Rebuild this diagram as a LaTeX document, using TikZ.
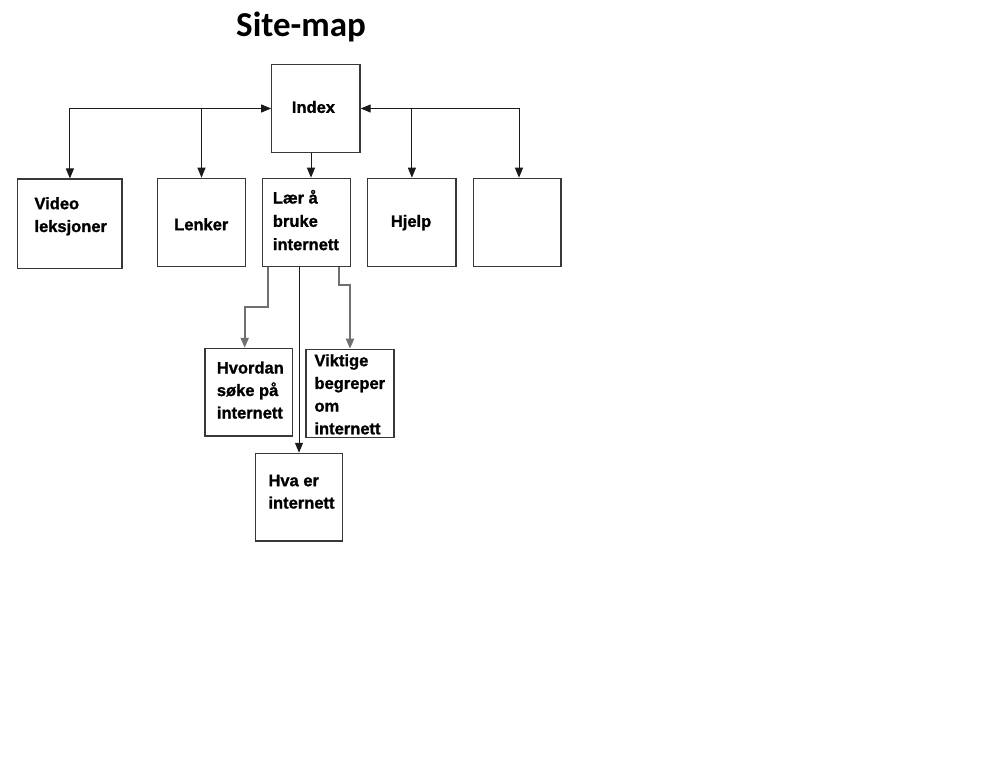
\documentclass[tikz,border=0pt]{standalone}
\usepackage{fontspec}
\setmainfont{Liberation Sans}[BoldFeatures={FakeBold=1.2}]
\newfontfamily\titlefont{Carlito}
\usetikzlibrary{arrows.meta}
\begin{document}
\begin{tikzpicture}[x=1pt,y=-1pt,
  box/.style={draw=boxcol,line width=1.2pt,inner sep=0pt},
  lbl/.style={anchor=north west,inner sep=0pt,align=left,
    font=\fontsize{16.5pt}{22.8pt}\selectfont\bfseries},
  conn/.style={draw=linecol,line width=1pt},
  subconn/.style={draw=subcol,line width=2pt},
  tip/.style={-{Triangle[length=10pt,width=8pt]}},
  tips/.style={{Triangle[length=10pt,width=8pt]}-{Triangle[length=10pt,width=8pt]}}
]
\definecolor{boxcol}{HTML}{383838}
\definecolor{linecol}{HTML}{1A1A1A}
\definecolor{subcol}{HTML}{707070}
\useasboundingbox (0,0) rectangle (988,770);
\fill[white] (0,0) rectangle (988,770);

% title
\node[anchor=base west,inner sep=0pt,font=\titlefont\fontsize{35pt}{40pt}\selectfont\bfseries] (title) at (236,37) {Site-map};

% boxes
\node[box,minimum width=88.3pt,minimum height=87.6pt] (idx) at (315.9,108.5) {};
\node[box,minimum width=104.3pt,minimum height=89pt] (vid) at (69.9,223.6) {};
\node[box,minimum width=88.4pt,minimum height=88.4pt] (len) at (201.5,222.5) {};
\node[box,minimum width=88pt,minimum height=88.4pt] (lar) at (306.7,222.5) {};
\node[box,minimum width=88.3pt,minimum height=88.4pt] (hj) at (411.9,222.5) {};
\node[box,minimum width=87.7pt,minimum height=88.4pt] (emp) at (517.2,222.5) {};
\node[box,minimum width=87.7pt,minimum height=87.7pt] (hv) at (248.9,392.2) {};
\node[box,minimum width=88pt,minimum height=88pt] (vik) at (350,393.3) {};
\node[box,minimum width=87pt,minimum height=87.7pt] (hva) at (299,497.2) {};

% texts (first baseline - 16)
\node[lbl] (tidx) at (291.7,96.7) {\rule{0pt}{16pt}Index};
\node[lbl] (tvid) at (34.3,193) {\rule{0pt}{16pt}Video\\leksjoner};
\node[lbl] (tlen) at (174,214) {\rule{0pt}{16pt}Lenker};
\node[lbl,font=\fontsize{16.5pt}{23.3pt}\selectfont\bfseries] (tlar) at (272.7,187.3) {\rule{0pt}{16pt}Lær å\\bruke\\internett};
\node[lbl] (thj) at (390.7,210.7) {\rule{0pt}{16pt}Hjelp};
\node[lbl,font=\fontsize{16.5pt}{22.5pt}\selectfont\bfseries] (thv) at (216.7,357.3) {\rule{0pt}{16pt}Hvordan\\søke på\\internett};
\node[lbl,font=\fontsize{16.5pt}{22.7pt}\selectfont\bfseries] (tvik) at (314.3,350) {\rule{0pt}{16pt}Viktige\\begreper\\om\\internett};
\node[lbl,font=\fontsize{16.5pt}{22.3pt}\selectfont\bfseries] (thva) at (268.3,470) {\rule{0pt}{16pt}Hva er\\internett};

% connectors from Index
\draw[conn,tips] (vid.north) |- (idx.west);
\draw[conn,tip] (len.north |- idx.west) -- (len.north);
\draw[conn,tips] ([xshift=1.8pt]emp.north) |- (idx.east);
\draw[conn,tip] (hj.north |- idx.east) -- (hj.north);
\draw[conn,tip] ([xshift=-4.9pt]idx.south) -- ([xshift=4.3pt]lar.north);

% connectors from Lær å bruke internett
\draw[subconn,tip] ([xshift=-38.4pt]lar.south) -- ++(0,40) -| ([xshift=-4.2pt]hv.north);
\draw[conn,tip] (lar.south -| hva.north) -- (hva.north);
\draw[subconn,tip] ([xshift=32.3pt]lar.south) -- ++(0,17.3) -| (vik.north);
\end{tikzpicture}
\end{document}
